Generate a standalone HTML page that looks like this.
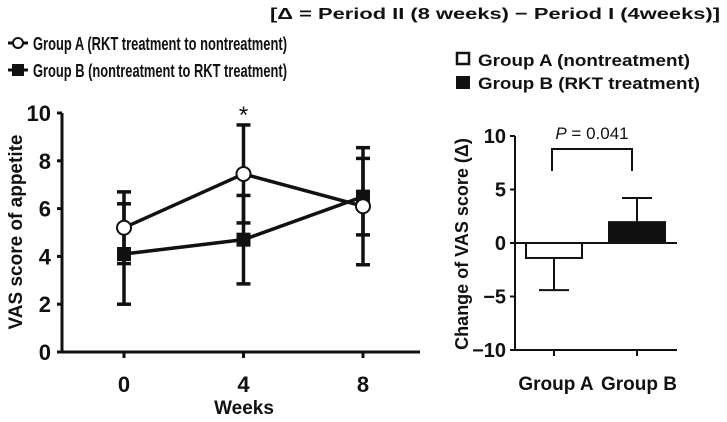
<!DOCTYPE html>
<html><head><meta charset="utf-8"><style>
html,body{margin:0;padding:0;background:#fff}
svg{display:block;font-family:"Liberation Sans",sans-serif;font-weight:bold;fill:#111}
</style></head><body>
<svg id="chart" width="727" height="422" viewBox="0 0 727 422" xmlns="http://www.w3.org/2000/svg">
<text x="270" y="19" font-size="16" textLength="450" lengthAdjust="spacingAndGlyphs">[Δ = Period II (8 weeks) − Period I (4weeks)]</text>
<g>
 <line x1="8" y1="43" x2="28" y2="43" stroke="#111" stroke-width="3"/>
 <circle cx="18" cy="43" r="5" fill="#fff" stroke="#111" stroke-width="2"/>
 <text x="33" y="50" font-size="18" textLength="254" lengthAdjust="spacingAndGlyphs">Group A (RKT treatment to nontreatment)</text>
 <line x1="8" y1="70" x2="28" y2="70" stroke="#111" stroke-width="3"/>
 <rect x="12" y="64" width="12" height="12" fill="#111"/>
 <text x="33" y="77" font-size="18" textLength="254" lengthAdjust="spacingAndGlyphs">Group B (nontreatment to RKT treatment)</text>
</g>
<g>
 <rect x="457" y="53" width="12" height="11" fill="#fff" stroke="#111" stroke-width="2.5"/>
 <text x="478" y="66" font-size="17" textLength="212" lengthAdjust="spacingAndGlyphs">Group A (nontreatment)</text>
 <rect x="456" y="76" width="14" height="13" fill="#111"/>
 <text x="478" y="89" font-size="17" textLength="222" lengthAdjust="spacingAndGlyphs">Group B (RKT treatment)</text>
</g>
<g id="left"></g>
<g id="right"></g>
</svg>
<script>
const weeks=[0,4,8];
const weekLabels=["0","4","8"];
const yTicksL=[0,2,4,6,8,10];
const groupAMean=[5.2,7.45,6.1];
const groupAErr=[1.5,2.05,2.45];
const groupBMean=[4.1,4.7,6.5];
const groupBErr=[2.1,1.85,1.6];
const barCats=["Group A","Group B"];
const barMean=[-1.4,1.95];
const barErr=[3.0,2.25];
const yTicksR=[-10,-5,0,5,10];
const yTickLabelsR=["−10","−5","0","5","10"];

const NS="http://www.w3.org/2000/svg";
function mk(p,t,a,txt){const e=document.createElementNS(NS,t);for(const k in a)e.setAttribute(k,a[k]);if(txt!==undefined)e.textContent=txt;p.appendChild(e);return e;}
const L=document.getElementById('left');
const xL=w=>124+(w-0)*(363-124)/8;
const yL=v=>352-v*23.9;
let e;
e=mk(L,'line',{x1:62,y1:yL(10),x2:62,y2:352,stroke:'#111','stroke-width':3});

e=mk(L,'line',{x1:61,y1:352,x2:420,y2:352,stroke:'#111','stroke-width':3});

yTicksL.forEach(t=>{
 mk(L,'line',{x1:57,y1:yL(t),x2:62,y2:yL(t),stroke:'#111','stroke-width':3});
 e=mk(L,'text',{x:51,y:yL(t)+8,'font-size':22,'text-anchor':'end'},String(t));
 
});
weeks.forEach((w,i)=>{
 mk(L,'line',{x1:xL(w),y1:352,x2:xL(w),y2:358,stroke:'#111','stroke-width':3});
 e=mk(L,'text',{x:xL(w),y:392,'font-size':22,'text-anchor':'middle'},weekLabels[i]);
 
});
e=mk(L,'text',{x:244,y:414,'font-size':19,'text-anchor':'middle'},'Weeks');

e=mk(L,'text',{x:0,y:0,'font-size':19,'text-anchor':'middle',transform:'translate(22,232) rotate(-90)'},'VAS score of appetite');

function errs(means,errsArr,name){
 means.forEach((m,i)=>{
  const x=xL(weeks[i]);
  e=mk(L,'line',{x1:x,y1:yL(m+errsArr[i]),x2:x,y2:yL(m-errsArr[i]),stroke:'#111','stroke-width':3.5});
  
  [m+errsArr[i],m-errsArr[i]].forEach(v=>mk(L,'line',{x1:x-7,y1:yL(v),x2:x+7,y2:yL(v),stroke:'#111','stroke-width':3.5}));
 });
}
errs(groupAMean,groupAErr,'group-a');
errs(groupBMean,groupBErr,'group-b');
e=mk(L,'polyline',{points:groupBMean.map((m,i)=>xL(weeks[i])+','+yL(m)).join(' '),fill:'none',stroke:'#111','stroke-width':3.5});

e=mk(L,'polyline',{points:groupAMean.map((m,i)=>xL(weeks[i])+','+yL(m)).join(' '),fill:'none',stroke:'#111','stroke-width':3.5});

groupBMean.forEach((m,i)=>{
 e=mk(L,'rect',{x:xL(weeks[i])-7,y:yL(m)-7,width:14,height:14,fill:'#111'});
 
});
groupAMean.forEach((m,i)=>{
 e=mk(L,'circle',{cx:xL(weeks[i]),cy:yL(m),r:7,fill:'#fff',stroke:'#111','stroke-width':2});
 
});
e=mk(L,'text',{x:xL(4),y:yL(groupAMean[1]+groupAErr[1])-2,'font-size':24,'font-weight':'normal','text-anchor':'middle'},'*');


const R=document.getElementById('right');
const yR=v=>243-v*10.7;
const xR=i=>554+i*83;
e=mk(R,'line',{x1:515,y1:yR(10),x2:515,y2:yR(-10),stroke:'#111','stroke-width':2});

e=mk(R,'line',{x1:515,y1:yR(-10),x2:677,y2:yR(-10),stroke:'#111','stroke-width':2});

e=mk(R,'line',{x1:515,y1:yR(0),x2:677,y2:yR(0),stroke:'#111','stroke-width':2});

yTicksR.forEach((t,i)=>{
 mk(R,'line',{x1:510,y1:yR(t),x2:515,y2:yR(t),stroke:'#111','stroke-width':2});
 e=mk(R,'text',{x:506,y:yR(t)+7,'font-size':20,'text-anchor':'end'},yTickLabelsR[i]);
 
});
e=mk(R,'text',{x:0,y:0,'font-size':18,'text-anchor':'middle',transform:'translate(468,244) rotate(-90)'},'Change of VAS score (Δ)');

barCats.forEach((c,i)=>{
 const x=xR(i),m=barMean[i];
 mk(R,'line',{x1:x,y1:yR(-10),x2:x,y2:yR(-10)+6,stroke:'#111','stroke-width':2});
 const tip=m+Math.sign(m)*barErr[i];
 e=mk(R,'line',{x1:x,y1:yR(m),x2:x,y2:yR(tip),stroke:'#111','stroke-width':2});
 
 mk(R,'line',{x1:x-15,y1:yR(tip),x2:x+15,y2:yR(tip),stroke:'#111','stroke-width':2});
 e=mk(R,'rect',{x:x-28,y:Math.min(yR(m),yR(0)),width:56,height:Math.abs(yR(m)-yR(0)),fill:i?'#111':'#fff',stroke:'#111','stroke-width':2});
 
 e=mk(R,'text',{x:x+2,y:390,'font-size':19,'text-anchor':'middle'},c);
 
});
e=mk(R,'path',{d:'M552 171 V149 H632 V171',fill:'none',stroke:'#111','stroke-width':2});

e=mk(R,'text',{x:592,y:139,'font-size':17,'font-weight':'normal','text-anchor':'middle'},'');

const ts=mk(e,'tspan',{'font-style':'italic'},'P');mk(e,'tspan',{},' = 0.041');
</script>
</body></html>
